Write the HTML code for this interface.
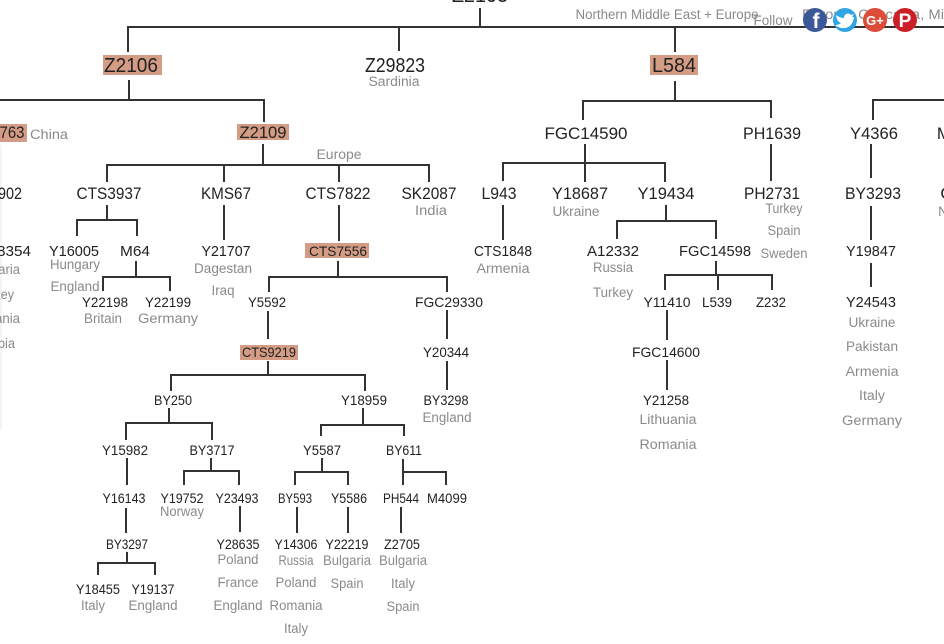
<!DOCTYPE html>
<html><head><meta charset="utf-8"><style>
html,body{margin:0;padding:0;background:#fff;width:944px;height:644px;overflow:hidden}
svg{display:block;font-family:"Liberation Sans",sans-serif;filter:blur(.3px)}
text{text-anchor:middle;fill:#222;font-size:14px}
.s{fill:#8a8a8a;font-size:13.5px}
.m{font-size:17px}
.l{font-size:20px}
.e{text-anchor:end}
path{fill:none;stroke:#333;stroke-width:2}
</style></head><body>
<svg width="944" height="644" viewBox="0 0 944 644" xmlns="http://www.w3.org/2000/svg">
<rect x="0" y="145" width="2" height="285" fill="#f5f5f5"/>
<rect x="103" y="55" width="59" height="20" fill="#d49c84"/>
<rect x="650" y="55" width="48" height="20" fill="#d49c84"/>
<rect x="237" y="124" width="52" height="16" fill="#d49c84"/>
<rect x="0" y="124" width="27" height="18" fill="#d49c84"/>
<rect x="305" y="243" width="64" height="15" fill="#d49c84"/>
<rect x="240" y="345" width="58" height="15" fill="#d49c84"/>
<path d="M480 8V27M128 52V27H944M399 27V51M675 27V52"/>
<path d="M129 80V100M0 100H264V122M263 144V165M107 182V165H430M224 165V182M339 165V182M429 165V182"/>
<path d="M107 205V220M77 236V220H137V236M136 261V277M103 291V277H170V291M224 205V240M339 205V241"/>
<path d="M338 261V277M269 292V277H447V292M268 311V339M447 310V339M447 361V390M268 361V375M171 391V375H365V391"/>
<path d="M169 408V423M126 440V423H212V440M363 408V425M321 436V425H404V436M127 458V485M126 508V533M127 552V563M98 575V563H155V575"/>
<path d="M211 458V471M184 485V471H239V485M240 506V532M322 458V472M295 485V472H348V485M297 507V533M348 507V533M403 459V485M403 472H446V485M401 507V533"/>
<path d="M675 81V101M583 120V101H771V118M585 144V182M503 181V163H665V182M771 144V181M873 120V100H944M871 144V178M871 206V240M871 263V287"/>
<path d="M503 205V240M666 205V221M617 239V221H716V239M716 261V275M665 290V275H772V290M718 275V290M667 310V340M667 360V390"/>

<text class="l" x="480" y="2" textLength="56" lengthAdjust="spacingAndGlyphs">Z2103</text>
<text class="s" x="667" y="19" textLength="183" lengthAdjust="spacingAndGlyphs">Northern Middle East + Europe</text>
<text class="s" x="873" y="19" textLength="142" lengthAdjust="spacingAndGlyphs">Europe, Caucasia, Mi</text>
<text class="s" x="773" y="25" textLength="39" lengthAdjust="spacingAndGlyphs">Follow</text>
<text class="l" x="131" y="72" textLength="54" lengthAdjust="spacingAndGlyphs">Z2106</text>
<text class="l" x="395" y="72" textLength="60" lengthAdjust="spacingAndGlyphs">Z29823</text>
<text class="s" x="394" y="86" textLength="51" lengthAdjust="spacingAndGlyphs">Sardinia</text>
<text class="l" x="674" y="72" textLength="44" lengthAdjust="spacingAndGlyphs">L584</text>

<text class="m" x="263" y="138" textLength="47" lengthAdjust="spacingAndGlyphs">Z2109</text>
<text class="m" x="12" y="138" textLength="25" lengthAdjust="spacingAndGlyphs">763</text>
<text class="s" x="49" y="139" textLength="38" lengthAdjust="spacingAndGlyphs">China</text>
<text class="s" x="339" y="159" textLength="45" lengthAdjust="spacingAndGlyphs">Europe</text>
<text class="m" x="586" y="139" textLength="83" lengthAdjust="spacingAndGlyphs">FGC14590</text>
<text class="m" x="772" y="139" textLength="58" lengthAdjust="spacingAndGlyphs">PH1639</text>
<text class="m" x="874" y="139" textLength="48" lengthAdjust="spacingAndGlyphs">Y4366</text>
<text class="m" x="944" y="139">M</text>

<text class="m" x="10" y="199" textLength="24" lengthAdjust="spacingAndGlyphs">902</text>
<text class="m" x="109" y="199" textLength="65" lengthAdjust="spacingAndGlyphs">CTS3937</text>
<text class="m" x="226" y="199" textLength="50" lengthAdjust="spacingAndGlyphs">KMS67</text>
<text class="m" x="338" y="199" textLength="65" lengthAdjust="spacingAndGlyphs">CTS7822</text>
<text class="m" x="429" y="199" textLength="55" lengthAdjust="spacingAndGlyphs">SK2087</text>
<text class="s" x="431" y="215" textLength="32" lengthAdjust="spacingAndGlyphs">India</text>
<text class="m" x="499" y="199" textLength="35" lengthAdjust="spacingAndGlyphs">L943</text>
<text class="m" x="580" y="199" textLength="56" lengthAdjust="spacingAndGlyphs">Y18687</text>
<text class="m" x="666" y="199" textLength="57" lengthAdjust="spacingAndGlyphs">Y19434</text>
<text class="m" x="772" y="199" textLength="56" lengthAdjust="spacingAndGlyphs">PH2731</text>
<text class="m" x="873" y="199" textLength="56" lengthAdjust="spacingAndGlyphs">BY3293</text>
<text class="m" x="947" y="199">G</text>
<text class="s" x="943" y="216">N</text>
<text class="s" x="576" y="216" textLength="47" lengthAdjust="spacingAndGlyphs">Ukraine</text>
<text class="s" x="784" y="213" textLength="37" lengthAdjust="spacingAndGlyphs">Turkey</text>
<text class="s" x="784" y="235" textLength="33" lengthAdjust="spacingAndGlyphs">Spain</text>
<text class="s" x="784" y="258" textLength="47" lengthAdjust="spacingAndGlyphs">Sweden</text>

<text x="14" y="256" textLength="34" lengthAdjust="spacingAndGlyphs" style="font-size:15px">8354</text>
<text class="s e" x="20" y="274" textLength="48" lengthAdjust="spacingAndGlyphs">Bulgaria</text>
<text class="s e" x="14" y="299" textLength="38" lengthAdjust="spacingAndGlyphs">Turkey</text>
<text class="s e" x="20" y="323" textLength="53" lengthAdjust="spacingAndGlyphs">Romania</text>
<text class="s e" x="15" y="348" textLength="37" lengthAdjust="spacingAndGlyphs">Serbia</text>
<text x="74" y="256" textLength="50" lengthAdjust="spacingAndGlyphs" style="font-size:15px">Y16005</text>
<text x="135" y="256" textLength="30" lengthAdjust="spacingAndGlyphs" style="font-size:15px">M64</text>
<text class="s" x="75" y="269" textLength="50" lengthAdjust="spacingAndGlyphs">Hungary</text>
<text class="s" x="75" y="291" textLength="49" lengthAdjust="spacingAndGlyphs">England</text>
<text x="105" y="307" textLength="46" lengthAdjust="spacingAndGlyphs">Y22198</text>
<text x="168" y="307" textLength="46" lengthAdjust="spacingAndGlyphs">Y22199</text>
<text class="s" x="103" y="323" textLength="38" lengthAdjust="spacingAndGlyphs">Britain</text>
<text class="s" x="168" y="323" textLength="60" lengthAdjust="spacingAndGlyphs">Germany</text>
<text x="226" y="256" textLength="49" lengthAdjust="spacingAndGlyphs" style="font-size:15px">Y21707</text>
<text class="s" x="223" y="273" textLength="58" lengthAdjust="spacingAndGlyphs">Dagestan</text>
<text class="s" x="223" y="295" textLength="23" lengthAdjust="spacingAndGlyphs">Iraq</text>
<text x="338" y="256" textLength="58" lengthAdjust="spacingAndGlyphs">CTS7556</text>
<text x="267" y="307" textLength="38" lengthAdjust="spacingAndGlyphs">Y5592</text>
<text x="449" y="307" textLength="68" lengthAdjust="spacingAndGlyphs">FGC29330</text>
<text x="269" y="357" textLength="54" lengthAdjust="spacingAndGlyphs">CTS9219</text>
<text x="446" y="357" textLength="46" lengthAdjust="spacingAndGlyphs">Y20344</text>
<text x="173" y="405" textLength="38" lengthAdjust="spacingAndGlyphs">BY250</text>
<text x="364" y="405" textLength="46" lengthAdjust="spacingAndGlyphs">Y18959</text>
<text x="446" y="405" textLength="45" lengthAdjust="spacingAndGlyphs">BY3298</text>
<text class="s" x="447" y="422" textLength="49" lengthAdjust="spacingAndGlyphs">England</text>

<text x="503" y="256" textLength="58" lengthAdjust="spacingAndGlyphs" style="font-size:15px">CTS1848</text>
<text class="s" x="503" y="273" textLength="53" lengthAdjust="spacingAndGlyphs">Armenia</text>
<text x="613" y="256" textLength="52" lengthAdjust="spacingAndGlyphs" style="font-size:15px">A12332</text>
<text class="s" x="613" y="272" textLength="40" lengthAdjust="spacingAndGlyphs">Russia</text>
<text class="s" x="613" y="297" textLength="40" lengthAdjust="spacingAndGlyphs">Turkey</text>
<text x="715" y="256" textLength="72" lengthAdjust="spacingAndGlyphs" style="font-size:15px">FGC14598</text>
<text x="667" y="307" textLength="47" lengthAdjust="spacingAndGlyphs">Y11410</text>
<text x="717" y="307" textLength="30" lengthAdjust="spacingAndGlyphs">L539</text>
<text x="771" y="307" textLength="30" lengthAdjust="spacingAndGlyphs">Z232</text>
<text x="666" y="357" textLength="68" lengthAdjust="spacingAndGlyphs">FGC14600</text>
<text x="666" y="405" textLength="46" lengthAdjust="spacingAndGlyphs">Y21258</text>
<text class="s" x="668" y="424" textLength="57" lengthAdjust="spacingAndGlyphs">Lithuania</text>
<text class="s" x="668" y="449" textLength="57" lengthAdjust="spacingAndGlyphs">Romania</text>

<text x="871" y="256" textLength="50" lengthAdjust="spacingAndGlyphs" style="font-size:15px">Y19847</text>
<text x="871" y="307" textLength="50" lengthAdjust="spacingAndGlyphs" style="font-size:15px">Y24543</text>
<text class="s" x="872" y="327" textLength="47" lengthAdjust="spacingAndGlyphs">Ukraine</text>
<text class="s" x="872" y="351" textLength="52" lengthAdjust="spacingAndGlyphs">Pakistan</text>
<text class="s" x="872" y="376" textLength="53" lengthAdjust="spacingAndGlyphs">Armenia</text>
<text class="s" x="872" y="400" textLength="26" lengthAdjust="spacingAndGlyphs">Italy</text>
<text class="s" x="872" y="425" textLength="60" lengthAdjust="spacingAndGlyphs">Germany</text>

<text x="125" y="455" textLength="46" lengthAdjust="spacingAndGlyphs">Y15982</text>
<text x="212" y="455" textLength="45" lengthAdjust="spacingAndGlyphs">BY3717</text>
<text x="322" y="455" textLength="38" lengthAdjust="spacingAndGlyphs">Y5587</text>
<text x="404" y="455" textLength="36" lengthAdjust="spacingAndGlyphs">BY611</text>
<text x="124" y="503" textLength="43" lengthAdjust="spacingAndGlyphs">Y16143</text>
<text x="182" y="503" textLength="43" lengthAdjust="spacingAndGlyphs">Y19752</text>
<text class="s" x="182" y="516" textLength="44" lengthAdjust="spacingAndGlyphs">Norway</text>
<text x="237" y="503" textLength="43" lengthAdjust="spacingAndGlyphs">Y23493</text>
<text x="295" y="503" textLength="34" lengthAdjust="spacingAndGlyphs">BY593</text>
<text x="349" y="503" textLength="36" lengthAdjust="spacingAndGlyphs">Y5586</text>
<text x="401" y="503" textLength="36" lengthAdjust="spacingAndGlyphs">PH544</text>
<text x="447" y="503" textLength="40" lengthAdjust="spacingAndGlyphs">M4099</text>
<text x="127" y="549" textLength="42" lengthAdjust="spacingAndGlyphs">BY3297</text>
<text x="238" y="549" textLength="43" lengthAdjust="spacingAndGlyphs">Y28635</text>
<text x="296" y="549" textLength="43" lengthAdjust="spacingAndGlyphs">Y14306</text>
<text x="347" y="549" textLength="43" lengthAdjust="spacingAndGlyphs">Y22219</text>
<text x="402" y="549" textLength="36" lengthAdjust="spacingAndGlyphs">Z2705</text>
<text class="s" x="238" y="564" textLength="41" lengthAdjust="spacingAndGlyphs">Poland</text>
<text class="s" x="238" y="587" textLength="41" lengthAdjust="spacingAndGlyphs">France</text>
<text class="s" x="238" y="610" textLength="49" lengthAdjust="spacingAndGlyphs">England</text>
<text class="s" x="296" y="565" textLength="35" lengthAdjust="spacingAndGlyphs">Russia</text>
<text class="s" x="296" y="587" textLength="41" lengthAdjust="spacingAndGlyphs">Poland</text>
<text class="s" x="296" y="610" textLength="53" lengthAdjust="spacingAndGlyphs">Romania</text>
<text class="s" x="296" y="633" textLength="24" lengthAdjust="spacingAndGlyphs">Italy</text>
<text class="s" x="347" y="565" textLength="48" lengthAdjust="spacingAndGlyphs">Bulgaria</text>
<text class="s" x="347" y="588" textLength="33" lengthAdjust="spacingAndGlyphs">Spain</text>
<text class="s" x="403" y="565" textLength="48" lengthAdjust="spacingAndGlyphs">Bulgaria</text>
<text class="s" x="403" y="588" textLength="24" lengthAdjust="spacingAndGlyphs">Italy</text>
<text class="s" x="403" y="611" textLength="33" lengthAdjust="spacingAndGlyphs">Spain</text>
<text x="98" y="594" textLength="44" lengthAdjust="spacingAndGlyphs">Y18455</text>
<text x="153" y="594" textLength="43" lengthAdjust="spacingAndGlyphs">Y19137</text>
<text class="s" x="93" y="610" textLength="24" lengthAdjust="spacingAndGlyphs">Italy</text>
<text class="s" x="153" y="610" textLength="49" lengthAdjust="spacingAndGlyphs">England</text>

<circle cx="815" cy="20" r="12" fill="#3b5998"/>
<circle cx="845" cy="20" r="12" fill="#2fa5e6"/>
<circle cx="875" cy="20" r="12" fill="#dd4b39"/>
<circle cx="905" cy="20" r="12" fill="#cb2027"/>
<text x="816" y="28" style="font-size:21px;font-weight:bold;fill:#fff">f</text>
<path d="M836 15c3 2 5 3 8 3c0-4 4-6 7-3l3-1l-2 3l2 0c-1 9-7 12-13 11c-3-1-5-2-6-3c3 0 5-1 6-2c-3-1-4-3-5-8z" style="fill:#fff;stroke:none"/>
<text x="875" y="25" style="font-size:13px;font-weight:bold;fill:#fff">G+</text>
<text x="905" y="27" style="font-size:19px;font-weight:bold;fill:#fff">P</text>
</svg>
</body></html>
